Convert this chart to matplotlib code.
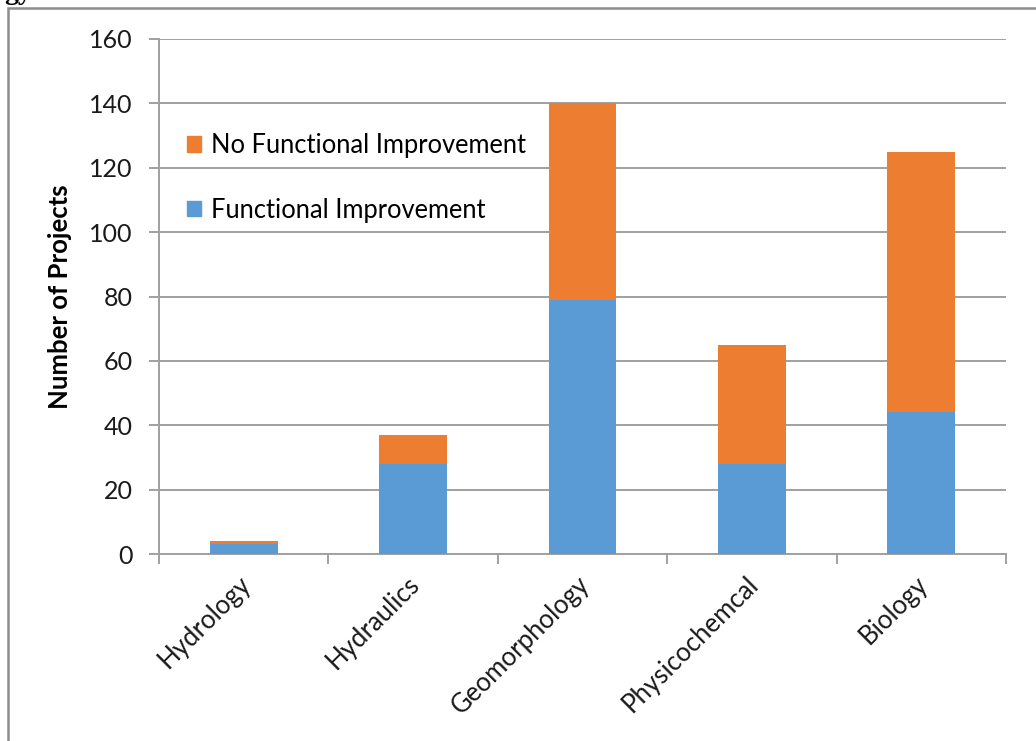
import numpy as np
import matplotlib
matplotlib.use('Agg')
import matplotlib.pyplot as plt
from matplotlib.patches import Patch, Rectangle
from matplotlib.transforms import ScaledTranslation

plt.rcParams['font.family'] = ['Lato', 'DejaVu Sans']

# Project counts per category, split by outcome
categories = ['Hydrology', 'Hydraulics', 'Geomorphology', 'Physicochemcal', 'Biology']
functional = [3, 28, 79, 28, 44]
no_functional = [1, 9, 61, 37, 81]
y_ticks = [0, 20, 40, 60, 80, 100, 120, 140, 160]

BLUE = '#5B9BD5'
ORANGE = '#ED7D31'
GRID = '#A0A0A0'

fig = plt.figure(figsize=(10.36, 7.41), dpi=100)
ax = fig.add_axes([159 / 1036, 1 - 554 / 741, (1006 - 159) / 1036, (554 - 39) / 741])

x = np.arange(len(categories))
ax.bar(x, functional, width=0.4, color=BLUE, zorder=3)
ax.bar(x, no_functional, width=0.4, bottom=functional, color=ORANGE, zorder=3)

ax.set_xlim(-0.5, len(categories) - 0.5)
ax.set_ylim(0, 160)
ax.set_yticks(y_ticks)
ax.yaxis.grid(True, color=GRID, linewidth=1.4, zorder=0)
ax.tick_params(axis='y', length=7, width=1.4, color=GRID, pad=12, labelsize=18, labelcolor='#1a1a1a')

# category labels at bar centres, tick marks on the boundaries
ax.set_xticks(x)
ax.set_xticklabels(categories, rotation=45, ha='right', rotation_mode='anchor', fontsize=18.5, color='#1a1a1a')
ax.tick_params(axis='x', which='major', length=0, pad=14)
ax.set_xticks(np.arange(-0.5, len(categories), 1.0), minor=True)
ax.tick_params(axis='x', which='minor', length=7, width=1.4, color=GRID)
nudge = ScaledTranslation(-6 / 100, 2 / 100, fig.dpi_scale_trans)
for lbl in ax.get_xticklabels():
    lbl.set_transform(lbl.get_transform() + nudge)

for side in ['top', 'right']:
    ax.spines[side].set_visible(False)
for side in ['left', 'bottom']:
    ax.spines[side].set_color(GRID)
    ax.spines[side].set_linewidth(1.4)

ax.set_ylabel('Number of Projects', fontsize=18.5, fontweight='bold', labelpad=12)

handles = [Patch(color=ORANGE, label='No Functional Improvement'),
           Patch(color=BLUE, label='Functional Improvement')]
ax.legend(handles=handles, loc='upper left', bbox_to_anchor=(0.033, 0.8175), frameon=False,
          borderpad=0, borderaxespad=0, fontsize=18.4, handlelength=0.55, handleheight=0.55,
          handletextpad=0.4, labelspacing=1.55)

# outer frame of the chart
fig.patches.append(Rectangle((8 / 1036, -0.05), 1.1, 1 - 8 / 741 + 0.05, transform=fig.transFigure,
                             fill=False, edgecolor='#8c8c8c', linewidth=1.8))
fig.text(4 / 1036, 1 + 1 / 741, 'gy', fontsize=20, fontweight='bold', family='Liberation Serif',
         va='baseline', ha='left')

fig.savefig('out.png', dpi=100)
